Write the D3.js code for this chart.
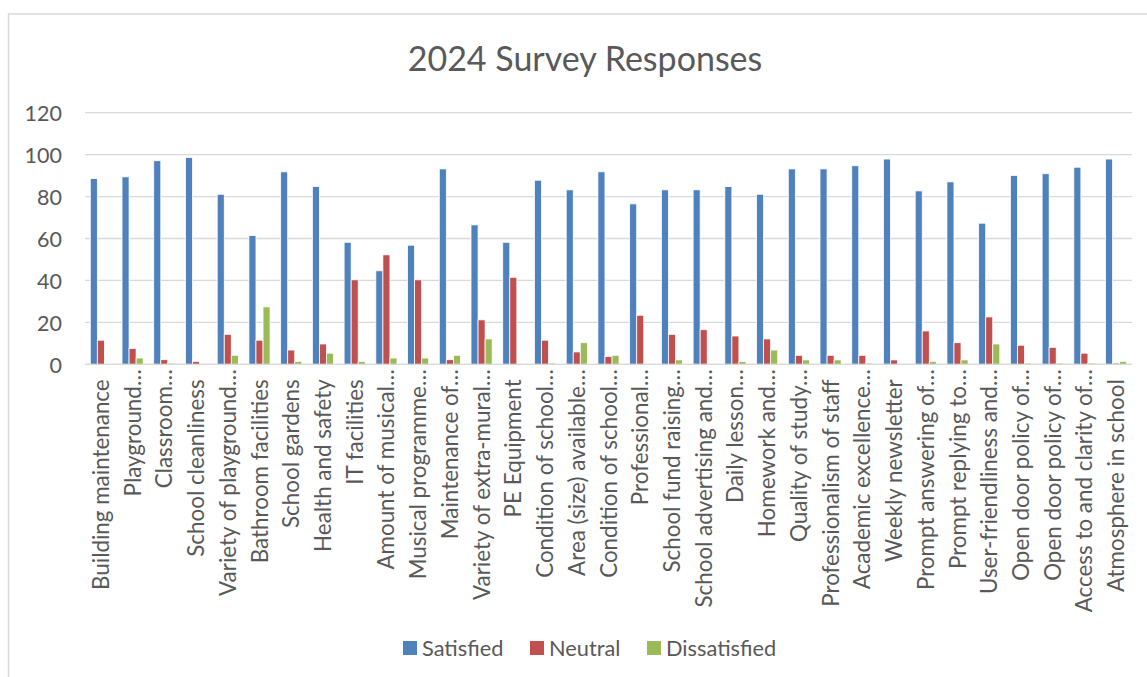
<!DOCTYPE html>
<html><head><meta charset="utf-8">
<script src="https://cdn.jsdelivr.net/npm/d3@7"></script>
<style>
html,body{margin:0;padding:0;background:#fff;}
svg{display:block;}
text{font-family:Lato,"Open Sans",sans-serif;fill:#595959;}
</style></head>
<body>
<svg id="chart" width="1147" height="677"></svg>
<script>
const categories = ["Building maintenance","Playground…","Classroom…","School cleanliness","Variety of playground…","Bathroom facilities","School gardens","Health and safety","IT facilities","Amount of musical…","Musical programme…","Maintenance of…","Variety of extra-mural…","PE Equipment","Condition of school…","Area (size) available…","Condition of school…","Professional…","School fund raising…","School advertising and…","Daily lesson…","Homework and…","Quality of study…","Professionalism of staff","Academic excellence…","Weekly newsletter","Prompt answering of…","Prompt replying to…","User-friendliness and…","Open door policy of…","Open door policy of…","Access to and clarity of…","Atmosphere in school"];
const seriesNames = ["Satisfied","Neutral","Dissatisfied"];
const satisfied = [88.6,89.4,97.1,98.6,81.1,61.4,91.8,84.8,58.2,44.6,56.8,93.2,66.5,58.2,87.8,83.2,91.8,76.5,83.2,83.2,84.8,81.1,93.2,93.2,94.7,97.9,82.7,87.0,67.3,90.1,90.9,94.0,97.9];
const neutral   = [11.5,7.6,2.2,1.4,14.3,11.5,6.8,9.7,40.3,52.2,40.3,2.2,21.2,41.5,11.5,5.9,3.7,23.4,14.3,16.5,13.5,12.1,4.3,4.3,4.3,2.1,15.9,10.3,22.6,9.1,8.1,5.3,0.6];
const dissatisfied = [0,3.0,0.6,0,4.3,27.4,1.4,5.3,1.4,3.0,3.0,4.3,12.1,0,0.6,10.3,4.3,0,2.1,0,1.4,6.8,2.1,2.1,0.6,0,1.4,2.1,9.7,0.6,0.6,0.6,1.4];
const yTicks = [0,20,40,60,80,100,120];
const colors = ["#4F81BD","#C0504D","#9BBB59"];
const title = "2024 Survey Responses";

const svg = d3.select("#chart");
const W = 1147, H = 677;
const plot = {left:85, right:1132, top:112.7, bottom:364.3};

// chart border
svg.append("rect").attr("x",8.5).attr("y",14).attr("width",W).attr("height",H)
  .attr("fill","none").attr("stroke","#D9D9D9").attr("stroke-width",1.5);

const data = categories.map((c,i)=>({cat:c, idx:i, vals:[satisfied[i],neutral[i],dissatisfied[i]]}));
const catKeys = categories.map((c,i)=>i);

const x0 = d3.scaleBand().domain(catKeys).range([plot.left,plot.right]).paddingInner(1/3).paddingOuter(1/6);
const x1 = d3.scaleBand().domain(seriesNames).range([0,x0.bandwidth()]).padding(0);
const y = d3.scaleLinear().domain([0,120]).range([plot.bottom,plot.top]);

// title
svg.append("text").attr("x",585).attr("y",71).attr("text-anchor","middle")
  .style("font-size","34px").text(title);

// gridlines
svg.append("g").selectAll("line").data(yTicks).join("line")
  .attr("x1",plot.left).attr("x2",plot.right)
  .attr("y1",d=>y(d)).attr("y2",d=>y(d))
  .attr("stroke","#D9D9D9").attr("stroke-width",1.3);

// y axis labels
const yAxis = d3.axisLeft(y).tickValues(yTicks).tickSize(0).tickPadding(0);
const gy = svg.append("g").attr("transform","translate(62,0)").call(yAxis);
gy.select(".domain").remove();
gy.selectAll("text").style("font-size","21.5px").style("fill","#595959").attr("font-family",null)
  .attr("dy","0.36em");

// bars
const groups = svg.append("g").selectAll("g").data(data).join("g")
  .attr("transform",d=>`translate(${x0(d.idx)},0)`);
groups.selectAll("rect").data(d=>d.vals.map((v,k)=>({k,v}))).join("rect")
  .attr("x",d=>x1(seriesNames[d.k]))
  .attr("width",x1.bandwidth())
  .attr("y",d=>y(d.v))
  .attr("height",d=>y(0)-y(d.v))
  .attr("fill",d=>colors[d.k])
  .attr("stroke","#ffffff").attr("stroke-width",0.8);

// category axis line
svg.append("line").attr("x1",plot.left).attr("x2",plot.right)
  .attr("y1",y(0)).attr("y2",y(0)).attr("stroke","#D9D9D9").attr("stroke-width",1.3);

// category labels
const xAxis = d3.axisBottom(x0).tickSize(0).tickFormat(i=>categories[i]);
const gx = svg.append("g").attr("transform",`translate(0,${y(0)})`).call(xAxis);
gx.select(".domain").remove();
gx.selectAll(".tick text")
  .attr("font-family",null)
  .style("font-size","22.4px").style("fill","#595959")
  .attr("text-anchor","end")
  .attr("transform","rotate(-90)")
  .attr("x",i=>categories[i].endsWith("…") ? -5 : -15).attr("y",0).attr("dy","0.36em");

// legend
const legendX = [403,530,647];
const lg = svg.append("g").selectAll("g").data(seriesNames).join("g")
  .attr("transform",(d,i)=>`translate(${legendX[i]},641)`);
lg.append("rect").attr("width",14).attr("height",14).attr("fill",(d,i)=>colors[i]);
lg.append("text").attr("x",19).attr("y",7).attr("dy","0.36em")
  .style("font-size","21.8px").text(d=>d);
</script>
</body></html>
